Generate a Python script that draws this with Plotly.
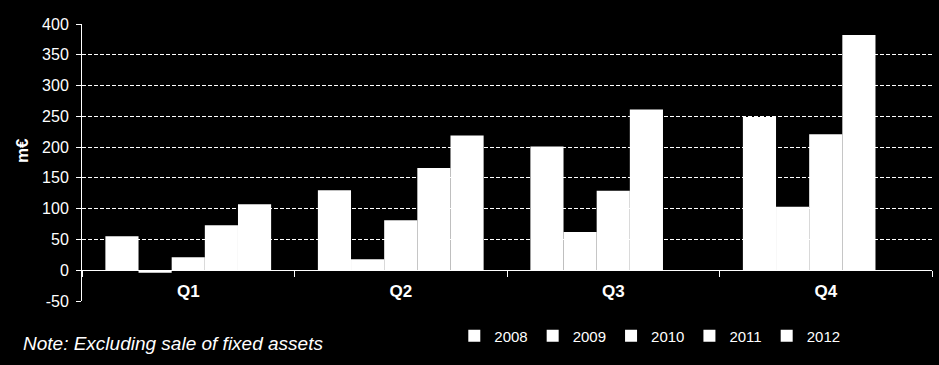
import plotly.graph_objects as go

quarters = ["Q1", "Q2", "Q3", "Q4"]
years = ["2008", "2009", "2010", "2011", "2012"]
v2008 = [55, 130, 201, 249]
v2009 = [-4, 18, 62, 103]
v2010 = [21, 81, 129, 221]
v2011 = [73, 166, 261, 382]
v2012 = [107, 219, None, None]
series = [v2008, v2009, v2010, v2011, v2012]
ytick_vals = [-50, 0, 50, 100, 150, 200, 250, 300, 350, 400]
ytick_text = ["-50", "0", "50", "100", "150", "200", "250", "300", "350", "400"]

FONT = "Liberation Sans, Arial, sans-serif"

fig = go.Figure()
for name, vals in zip(years, series):
    fig.add_trace(go.Bar(x=quarters, y=vals, name=name,
                         marker=dict(color="white", line=dict(width=0))))

fig.update_layout(
    width=939, height=365,
    paper_bgcolor="black", plot_bgcolor="black",
    margin=dict(l=82, r=7, t=24, b=64),
    barmode="group", bargap=0.22, bargroupgap=0,
    font=dict(family=FONT, color="white", size=16),
    showlegend=True,
    legend=dict(orientation="h", x=0.438, y=-0.126, xanchor="left", yanchor="middle",
                font=dict(size=15, color="white", family=FONT),
                itemwidth=30,
                bgcolor="rgba(0,0,0,0)", itemclick=False, traceorder="normal"),
    xaxis=dict(type="category", anchor="free", position=1/9,
               showline=True, linecolor="white", linewidth=1,
               ticks="outside", tickson="boundaries", ticklen=6, tickcolor="white",
               showgrid=False, tickfont=dict(size=17, color="white", family=FONT, weight="bold"),
               ticklabelstandoff=5),
    yaxis=dict(range=[-50, 400], tickvals=ytick_vals, ticktext=ytick_text, showgrid=True,
               gridcolor="white", griddash="4px,2px", gridwidth=1,
               zeroline=False, showline=True, linecolor="white", linewidth=1,
               ticks="outside", ticklen=5, tickcolor="white",
               tickfont=dict(size=16, color="white", family=FONT),
               ticklabelstandoff=4),
    annotations=[
        dict(text="m€", xref="paper", yref="paper", x=(22 - 82) / 850, y=(301 - 151) / 277,
             xanchor="center", yanchor="middle", textangle=-90, showarrow=False,
             font=dict(size=17, color="white", family=FONT, weight="bold")),
        dict(text="<i>Note: Excluding sale of fixed assets</i>", xref="paper", yref="paper",
             x=(21 - 82) / 850, y=(301 - 343) / 277, xanchor="left", yanchor="middle",
             showarrow=False, font=dict(size=19, color="white", family=FONT)),
    ],
)

fig.write_html("out.html", config={"displayModeBar": False},
               post_script="document.body.style.margin='0';document.body.style.background='black';")
